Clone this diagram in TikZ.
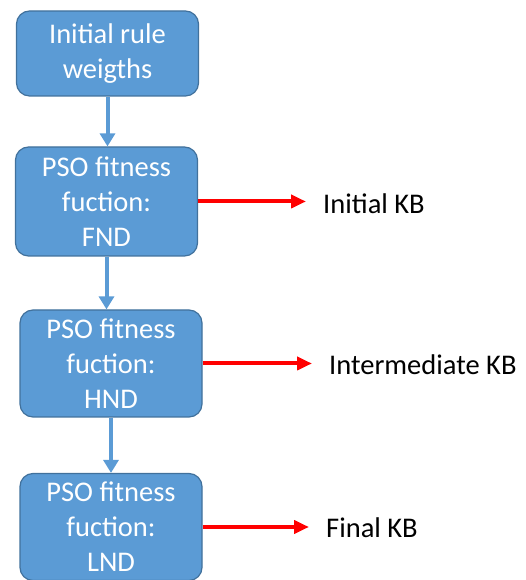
\documentclass[tikz,border=0pt]{standalone}
\usepackage{fontspec}
\setmainfont{Carlito}
\usepackage{xcolor}
\usetikzlibrary{arrows.meta}
\definecolor{psoBlue}{RGB}{91, 155, 213}
\definecolor{psoEdge}{RGB}{65, 113, 156}
\definecolor{kbRed}{RGB}{255, 0, 0}

\begin{document}
\begin{tikzpicture}[x=1pt, y=1pt]
            % Styles
            \tikzstyle{stage} = [rectangle, draw=psoEdge, line width=1.2pt, fill=psoBlue, text=white, align=center, minimum width=182pt, rounded corners=13pt, font=\fontsize{28.5}{35}\selectfont]
            \tikzstyle{kb} = [anchor=west, text=black, inner sep=0pt, font=\fontsize{28.5}{35}\selectfont]
            \tikzstyle{arrow} = [-{Triangle[length=13pt, width=15pt]}, line width=4pt, psoBlue]
            \tikzstyle{kbarrow} = [-{Triangle[length=15pt, width=13pt]}, line width=4pt, kbRed, shorten >=17pt]

            \useasboundingbox (0,0) rectangle (526,580);

            % Stage Nodes - explicit coordinates
            \node[stage, minimum height=85pt] (init) at (107.5, 526.5) {Initial rule\\weigths};
            \node[stage, minimum height=109pt] (fnd) at (106.5, 378.5) {PSO fitness\\fuction:\\FND};
            \node[stage, minimum height=107pt] (hnd) at (111, 216.5) {PSO fitness\\fuction:\\HND};
            \node[stage, minimum height=107pt] (lnd) at (111, 53) {PSO fitness\\fuction:\\LND};

            % KB Nodes
            \node[kb] (ikb) at (323, 376) {Initial KB};
            \node[kb] (mkb) at (329, 215) {Intermediate KB};
            \node[kb] (fkb) at (326, 52) {Final KB};

            % Arrows
            \draw[arrow] (init.south) -- (init.south |- fnd.north);
            \draw[arrow] (fnd.south) -- (fnd.south |- hnd.north);
            \draw[arrow] (hnd.south) -- (hnd.south |- lnd.north);
            \draw[kbarrow] (fnd.east) -- (fnd.east -| ikb.west);
            \draw[kbarrow] (hnd.east) -- (hnd.east -| mkb.west);
            \draw[kbarrow] (lnd.east) -- (lnd.east -| fkb.west);
        \end{tikzpicture}
\end{document}
